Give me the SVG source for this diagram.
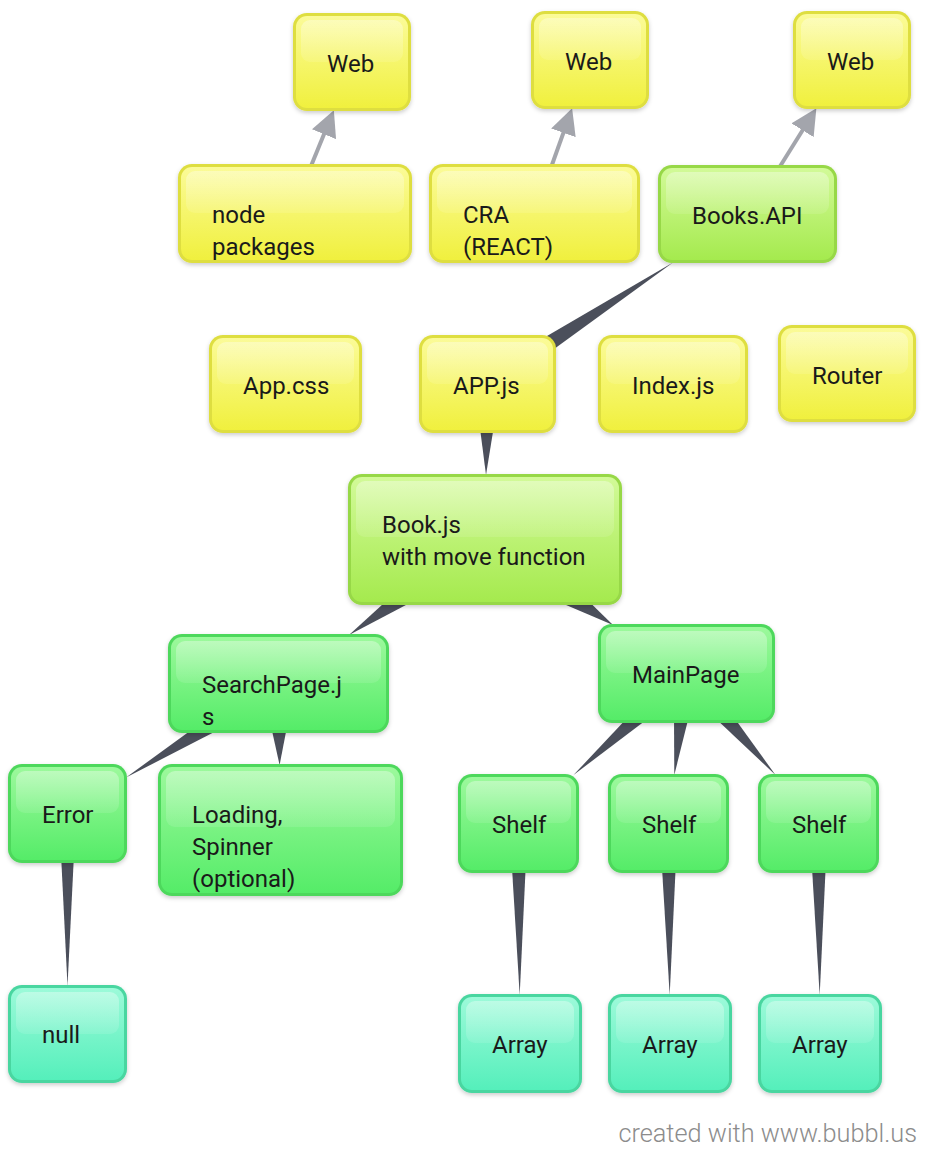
<svg xmlns="http://www.w3.org/2000/svg" width="936" height="1166" viewBox="0 0 936 1166">
<defs>
<linearGradient id="gy" x1="0" y1="0" x2="0" y2="1"><stop offset="0" stop-color="#fbfb98"/><stop offset="1" stop-color="#f0f03e"/></linearGradient>
<linearGradient id="gyg" x1="0" y1="0" x2="0" y2="1"><stop offset="0" stop-color="#d2fa98"/><stop offset="1" stop-color="#a5ea4e"/></linearGradient>
<linearGradient id="gg" x1="0" y1="0" x2="0" y2="1"><stop offset="0" stop-color="#9cf99c"/><stop offset="1" stop-color="#55ec68"/></linearGradient>
<linearGradient id="gt" x1="0" y1="0" x2="0" y2="1"><stop offset="0" stop-color="#9cfad9"/><stop offset="1" stop-color="#55efbb"/></linearGradient>
<linearGradient id="ghl" x1="0" y1="0" x2="0" y2="1"><stop offset="0" stop-color="#ffffff" stop-opacity="0.35"/><stop offset="1" stop-color="#ffffff" stop-opacity="0.1"/></linearGradient>
<filter id="sh" x="-10%" y="-10%" width="120%" height="130%"><feDropShadow dx="0" dy="2" stdDeviation="2" flood-color="#000" flood-opacity="0.2"/></filter>
<marker id="ah" markerUnits="userSpaceOnUse" markerWidth="26" markerHeight="26" refX="2" refY="12.5" orient="auto" viewBox="0 0 25 25"><path d="M0,0 L25,12.5 L0,25 z" fill="#a3a5ac"/></marker>
<style>
.b{filter:url(#sh)}
.yellow .b{fill:#dede40}
.yellow .f{fill:url(#gy)}
.yg .b{fill:#97d846}
.yg .f{fill:url(#gyg)}
.green .b{fill:#4ed85c}
.green .f{fill:url(#gg)}
.teal .b{fill:#48d6a0}
.teal .f{fill:url(#gt)}
.hl{fill:url(#ghl)}
text{font-family:Roboto,"Liberation Sans",sans-serif;font-size:24px;fill:#1a1a1a}
.wedge{fill:#4b4f5b}
.arrow{stroke:#a3a5ac;stroke-width:4;fill:none;marker-end:url(#ah)}
.footer{font-size:25.3px;font-weight:300;fill:#8c8c8c}
</style>
</defs>
<rect width="936" height="1166" fill="#ffffff"/>

<g id="connectors">
<polygon class="wedge" points="493.1,393.4 480.9,374.6 673,262.5"/>
<polygon class="wedge" points="500.7,384.2 474.3,383.8 486,475"/>
<polygon class="wedge" points="497.1,556.9 472.9,522.1 349,635"/>
<polygon class="wedge" points="469,563.6 501,515.4 613,625"/>
<polygon class="wedge" points="285.7,695.3 271.3,671.8 126,777.5"/>
<polygon class="wedge" points="295.4,683.3 261.6,683.7 279.6,765"/>
<polygon class="wedge" points="695,683 678,664 573.5,775"/>
<polygon class="wedge" points="699.2,675 673.8,672 674.3,775"/>
<polygon class="wedge" points="676.9,682 696.1,665 775.5,775"/>
<polygon class="wedge" points="76,813.5 59,813.5 67.5,986"/>
<polygon class="wedge" points="527.7,823.5 509.3,823.5 519.7,995"/>
<polygon class="wedge" points="677.7,823.5 659.3,823.5 669.7,995"/>
<polygon class="wedge" points="827.7,823.5 809.3,823.5 819.7,995"/>
<line class="arrow" x1="310.6" y1="167" x2="324.8" y2="132.3"/>
<line class="arrow" x1="551.2" y1="167" x2="564.1" y2="130.8"/>
<line class="arrow" x1="779" y1="168" x2="803.7" y2="128.5"/>
</g>

<g id="n-web1" class="yellow"><rect class="b" x="293" y="13" width="118" height="98" rx="14"/><rect class="f" x="296" y="16" width="112" height="92" rx="11"/><rect class="hl" x="301" y="20" width="102" height="42" rx="9"/><text x="327" y="72">Web</text></g>
<g id="n-web2" class="yellow"><rect class="b" x="531" y="11" width="118" height="98" rx="14"/><rect class="f" x="534" y="14" width="112" height="92" rx="11"/><rect class="hl" x="539" y="18" width="102" height="42" rx="9"/><text x="565" y="70">Web</text></g>
<g id="n-web3" class="yellow"><rect class="b" x="793" y="11" width="118" height="98" rx="14"/><rect class="f" x="796" y="14" width="112" height="92" rx="11"/><rect class="hl" x="801" y="18" width="102" height="42" rx="9"/><text x="827" y="70">Web</text></g>
<g id="n-nodepackages" class="yellow"><rect class="b" x="178" y="164" width="234" height="99" rx="14"/><rect class="f" x="181" y="167" width="228" height="93" rx="11"/><rect class="hl" x="186" y="171" width="218" height="42" rx="9"/><text x="212" y="223">node</text><text x="212" y="255">packages</text></g>
<g id="n-cra" class="yellow"><rect class="b" x="429" y="164" width="211" height="99" rx="14"/><rect class="f" x="432" y="167" width="205" height="93" rx="11"/><rect class="hl" x="437" y="171" width="195" height="42" rx="9"/><text x="463" y="223">CRA</text><text x="463" y="255">(REACT)</text></g>
<g id="n-booksapi" class="yg"><rect class="b" x="658" y="165" width="179" height="98" rx="14"/><rect class="f" x="661" y="168" width="173" height="92" rx="11"/><rect class="hl" x="666" y="172" width="163" height="42" rx="9"/><text x="692" y="224">Books.API</text></g>
<g id="n-appcss" class="yellow"><rect class="b" x="209" y="335" width="153" height="98" rx="14"/><rect class="f" x="212" y="338" width="147" height="92" rx="11"/><rect class="hl" x="217" y="342" width="137" height="42" rx="9"/><text x="243" y="394">App.css</text></g>
<g id="n-appjs" class="yellow"><rect class="b" x="419" y="335" width="137" height="98" rx="14"/><rect class="f" x="422" y="338" width="131" height="92" rx="11"/><rect class="hl" x="427" y="342" width="121" height="42" rx="9"/><text x="453" y="394">APP.js</text></g>
<g id="n-index" class="yellow"><rect class="b" x="598" y="335" width="150" height="98" rx="14"/><rect class="f" x="601" y="338" width="144" height="92" rx="11"/><rect class="hl" x="606" y="342" width="134" height="42" rx="9"/><text x="632" y="394">Index.js</text></g>
<g id="n-router" class="yellow"><rect class="b" x="778" y="325" width="138" height="97" rx="14"/><rect class="f" x="781" y="328" width="132" height="91" rx="11"/><rect class="hl" x="786" y="332" width="122" height="42" rx="9"/><text x="812" y="384">Router</text></g>
<g id="n-book" class="yg"><rect class="b" x="348" y="474" width="274" height="131" rx="14"/><rect class="f" x="351" y="477" width="268" height="125" rx="11"/><rect class="hl" x="356" y="481" width="258" height="56" rx="9"/><text x="382" y="533">Book.js</text><text x="382" y="565">with move function</text></g>
<g id="n-searchpage" class="green"><rect class="b" x="168" y="634" width="221" height="99" rx="14"/><rect class="f" x="171" y="637" width="215" height="93" rx="11"/><rect class="hl" x="176" y="641" width="205" height="42" rx="9"/><text x="202" y="693">SearchPage.j</text><text x="202" y="725">s</text></g>
<g id="n-mainpage" class="green"><rect class="b" x="598" y="624" width="177" height="99" rx="14"/><rect class="f" x="601" y="627" width="171" height="93" rx="11"/><rect class="hl" x="606" y="631" width="161" height="42" rx="9"/><text x="632" y="683">MainPage</text></g>
<g id="n-error" class="green"><rect class="b" x="8" y="764" width="119" height="99" rx="14"/><rect class="f" x="11" y="767" width="113" height="93" rx="11"/><rect class="hl" x="16" y="771" width="103" height="42" rx="9"/><text x="42" y="823">Error</text></g>
<g id="n-loading" class="green"><rect class="b" x="158" y="764" width="245" height="132" rx="14"/><rect class="f" x="161" y="767" width="239" height="126" rx="11"/><rect class="hl" x="166" y="771" width="229" height="56" rx="9"/><text x="192" y="823">Loading,</text><text x="192" y="855">Spinner</text><text x="192" y="887">(optional)</text></g>
<g id="n-shelf1" class="green"><rect class="b" x="458" y="774" width="121" height="99" rx="14"/><rect class="f" x="461" y="777" width="115" height="93" rx="11"/><rect class="hl" x="466" y="781" width="105" height="42" rx="9"/><text x="492" y="833">Shelf</text></g>
<g id="n-shelf2" class="green"><rect class="b" x="608" y="774" width="121" height="99" rx="14"/><rect class="f" x="611" y="777" width="115" height="93" rx="11"/><rect class="hl" x="616" y="781" width="105" height="42" rx="9"/><text x="642" y="833">Shelf</text></g>
<g id="n-shelf3" class="green"><rect class="b" x="758" y="774" width="121" height="99" rx="14"/><rect class="f" x="761" y="777" width="115" height="93" rx="11"/><rect class="hl" x="766" y="781" width="105" height="42" rx="9"/><text x="792" y="833">Shelf</text></g>
<g id="n-null" class="teal"><rect class="b" x="8" y="985" width="119" height="98" rx="14"/><rect class="f" x="11" y="988" width="113" height="92" rx="11"/><rect class="hl" x="16" y="992" width="103" height="42" rx="9"/><text x="42" y="1043">null</text></g>
<g id="n-array1" class="teal"><rect class="b" x="458" y="994" width="124" height="99" rx="14"/><rect class="f" x="461" y="997" width="118" height="93" rx="11"/><rect class="hl" x="466" y="1001" width="108" height="42" rx="9"/><text x="492" y="1053">Array</text></g>
<g id="n-array2" class="teal"><rect class="b" x="608" y="994" width="124" height="99" rx="14"/><rect class="f" x="611" y="997" width="118" height="93" rx="11"/><rect class="hl" x="616" y="1001" width="108" height="42" rx="9"/><text x="642" y="1053">Array</text></g>
<g id="n-array3" class="teal"><rect class="b" x="758" y="994" width="124" height="99" rx="14"/><rect class="f" x="761" y="997" width="118" height="93" rx="11"/><rect class="hl" x="766" y="1001" width="108" height="42" rx="9"/><text x="792" y="1053">Array</text></g>

<text class="footer" x="917" y="1142" text-anchor="end">created with www.bubbl.us</text>
</svg>
